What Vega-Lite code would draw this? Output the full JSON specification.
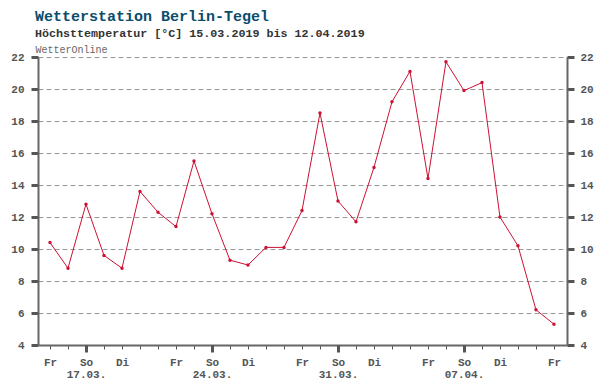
{
  "$schema": "https://vega.github.io/schema/vega-lite/v6.json",
  "width": 529,
  "height": 288,
  "autosize": {"type": "none"},
  "padding": {"left": 38, "top": 57, "right": 38, "bottom": 41},
  "background": "white",
  "title": {
    "text": "Wetterstation Berlin-Tegel",
    "subtitle": "Höchsttemperatur [°C] 15.03.2019 bis 12.04.2019",
    "anchor": "start",
    "frame": "group",
    "dx": -3,
    "offset": 4,
    "font": "Liberation Mono",
    "fontSize": 15,
    "fontWeight": "bold",
    "color": "#0b4d6c",
    "subtitleFont": "Liberation Mono",
    "subtitleFontSize": 11.7,
    "subtitleFontWeight": "bold",
    "subtitleColor": "#333333",
    "subtitlePadding": 4
  },
  "config": {
    "view": {"stroke": null},
    "axis": {
      "labelFont": "Liberation Mono",
      "labelFontSize": 11,
      "labelFontWeight": "bold",
      "labelColor": "#555555",
      "domainColor": "#666666",
      "tickColor": "#555555",
      "labelOverlap": false,
      "labelBound": false,
      "labelFlush": false
    }
  },
  "data": {
    "values": [
      {"date": "2019-03-15", "temp": 10.4},
      {"date": "2019-03-16", "temp": 8.8},
      {"date": "2019-03-17", "temp": 12.8},
      {"date": "2019-03-18", "temp": 9.6},
      {"date": "2019-03-19", "temp": 8.8},
      {"date": "2019-03-20", "temp": 13.6},
      {"date": "2019-03-21", "temp": 12.3},
      {"date": "2019-03-22", "temp": 11.4},
      {"date": "2019-03-23", "temp": 15.5},
      {"date": "2019-03-24", "temp": 12.2},
      {"date": "2019-03-25", "temp": 9.3},
      {"date": "2019-03-26", "temp": 9.0},
      {"date": "2019-03-27", "temp": 10.1},
      {"date": "2019-03-28", "temp": 10.1},
      {"date": "2019-03-29", "temp": 12.4},
      {"date": "2019-03-30", "temp": 18.5},
      {"date": "2019-03-31", "temp": 13.0},
      {"date": "2019-04-01", "temp": 11.7},
      {"date": "2019-04-02", "temp": 15.1},
      {"date": "2019-04-03", "temp": 19.2},
      {"date": "2019-04-04", "temp": 21.1},
      {"date": "2019-04-05", "temp": 14.4},
      {"date": "2019-04-06", "temp": 21.7},
      {"date": "2019-04-07", "temp": 19.9},
      {"date": "2019-04-08", "temp": 20.4},
      {"date": "2019-04-09", "temp": 12.0},
      {"date": "2019-04-10", "temp": 10.2},
      {"date": "2019-04-11", "temp": 6.2},
      {"date": "2019-04-12", "temp": 5.3}
    ]
  },
  "resolve": {"axis": {"x": "independent", "y": "independent"}},
  "layer": [
    {
      "mark": {"type": "line", "color": "#cc1133", "strokeWidth": 1},
      "encoding": {
        "x": {
          "field": "date",
          "type": "temporal",
          "scale": {
            "type": "utc",
            "nice": false,
            "domain": [
              {"year": 2019, "month": 3, "date": 14, "hours": 8, "utc": true},
              {"year": 2019, "month": 4, "date": 12, "hours": 17, "minutes": 22, "utc": true}
            ]
          },
          "axis": {
            "orient": "bottom",
            "title": null,
            "grid": false,
            "tickCount": {"interval": "day", "step": 1},
            "tickSize": 4,
            "tickWidth": 1,
            "domainWidth": 2,
            "labelPadding": 7,
            "labelExpr": "utcday(datum.value) == 5 ? 'Fr' : (utcday(datum.value) == 0 ? 'So' : (utcday(datum.value) == 2 ? 'Di' : ''))"
          }
        },
        "y": {
          "field": "temp",
          "type": "quantitative",
          "scale": {"domain": [4, 22], "nice": false, "zero": false},
          "axis": {
            "orient": "left",
            "values": [4, 6, 8, 10, 12, 14, 16, 18, 20, 22],
            "grid": true,
            "gridDash": [5, 3],
            "gridColor": "#999999",
            "gridWidth": 1,
            "tickSize": 7,
            "tickWidth": 3,
            "domainWidth": 2,
            "labelPadding": 7,
            "title": "WetterOnline",
            "titleAngle": 0,
            "titleX": -3,
            "titleY": -5,
            "titleAlign": "left",
            "titleBaseline": "alphabetic",
            "titleFont": "Liberation Mono",
            "titleFontSize": 10,
            "titleFontWeight": "normal",
            "titleColor": "#666666"
          }
        }
      }
    },
    {
      "mark": {"type": "point", "filled": true, "color": "#cc1133", "size": 12, "opacity": 1},
      "encoding": {
        "x": {
          "field": "date",
          "type": "temporal",
          "axis": {
            "orient": "bottom",
            "title": null,
            "grid": false,
            "domain": false,
            "labels": false,
            "tickCount": {"interval": "week", "step": 1},
            "tickSize": 7,
            "tickWidth": 3
          }
        },
        "y": {
          "field": "temp",
          "type": "quantitative",
          "axis": {
            "orient": "right",
            "values": [4, 6, 8, 10, 12, 14, 16, 18, 20, 22],
            "grid": false,
            "tickSize": 7,
            "tickWidth": 3,
            "domainWidth": 2,
            "labelPadding": 6,
            "title": null
          }
        }
      }
    },
    {
      "mark": {"type": "line", "opacity": 0},
      "encoding": {
        "x": {
          "field": "date",
          "type": "temporal",
          "axis": {
            "orient": "bottom",
            "title": null,
            "grid": false,
            "domain": false,
            "ticks": false,
            "tickSize": 0,
            "labelPadding": 23,
            "tickCount": {"interval": "week", "step": 1},
            "labelExpr": "utcFormat(datum.value, '%d.%m.')"
          }
        },
        "y": {
          "field": "temp",
          "type": "quantitative",
          "axis": null
        }
      }
    }
  ]
}
